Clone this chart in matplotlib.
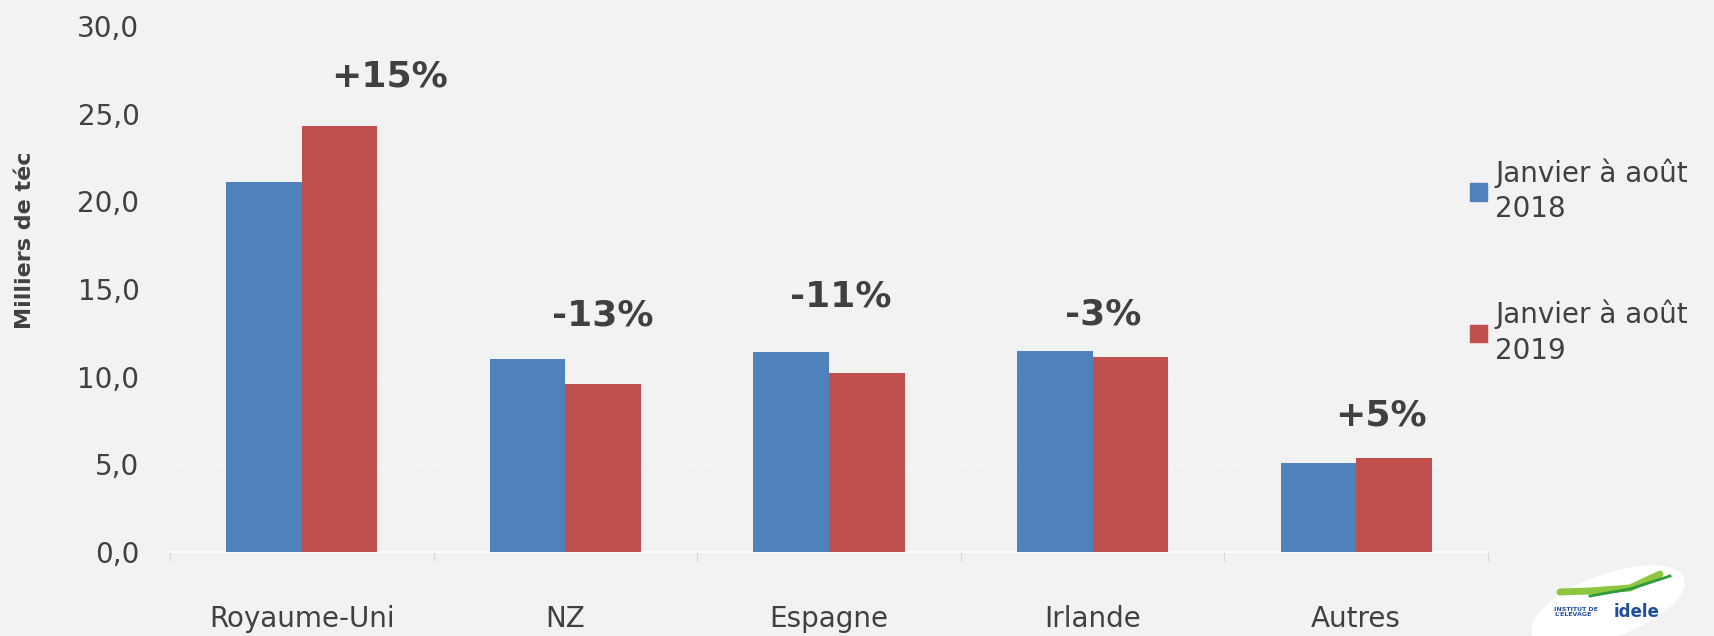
"""Exports by origin, Jan-Aug 2018 vs 2019."""

import matplotlib
matplotlib.use("Agg")
import matplotlib.pyplot as plt
from matplotlib.patches import Ellipse, Patch
import numpy as np

categories = ["Royaume-Uni", "NZ", "Espagne", "Irlande", "Autres"]
values_2018 = [21.1, 11.0, 11.4, 11.45, 5.1]
values_2019 = [24.3, 9.6, 10.2, 11.1, 5.37]
change_labels = ["+15%", "-13%", "-11%", "-3%", "+5%"]
series_labels = ["Janvier à août\n2018", "Janvier à août\n2019"]
y_ticks = [0, 5, 10, 15, 20, 25, 30]

BLUE = "#4F81BD"
RED = "#C0504D"
BG = "#F2F2F2"
TXT = "#404040"

# label placement (category units / data units above the tallest bar)
lbl_dx = [0.334, 0.143, 0.046, 0.039, 0.095]
lbl_dy = [2.8, 2.5, 3.2, 2.1, 2.4]

fig = plt.figure(figsize=(17.15, 6.36), dpi=100, facecolor=BG)
ax = fig.add_axes([170 / 1715, 1 - 552 / 636, 1318 / 1715, 526 / 636])
ax.set_facecolor(BG)

x = np.arange(len(categories))
w = 0.287
ax.bar(x - w / 2, values_2018, w, color=BLUE, zorder=3)
ax.bar(x + w / 2, values_2019, w, color=RED, zorder=3)

ax.set_xlim(-0.5, len(categories) - 0.5)
ax.set_ylim(0, 30)
ax.set_yticks(y_ticks)
ax.set_yticklabels([f"{v:.1f}".replace(".", ",") for v in y_ticks])
ax.set_xticks(x)
ax.set_xticklabels(categories)
ax.set_xticks(np.arange(-0.5, len(categories)), minor=True)

ax.tick_params(axis="y", length=0, pad=22, labelsize=20, labelcolor=TXT)
ax.tick_params(axis="x", which="major", length=0, pad=38, labelsize=20,
               labelcolor=TXT)
ax.tick_params(axis="x", which="minor", length=6.5, width=1, color="#D9D9D9")

for s in ["top", "right", "left"]:
    ax.spines[s].set_visible(False)
ax.spines["bottom"].set_color("#FFFFFF")
ax.spines["bottom"].set_linewidth(1.2)
ax.grid(axis="y", color="#FAFAFA", linestyle=(0, (3, 2)), linewidth=0.8,
        zorder=0)
ax.set_axisbelow(True)

for i, lbl in enumerate(change_labels):
    top = max(values_2018[i], values_2019[i])
    ax.text(x[i] + lbl_dx[i], top + lbl_dy[i], lbl, ha="center",
            va="center", fontsize=26, fontweight="bold", color=TXT)

fig.text(25 / 1715, 1 - 240 / 636, "Milliers de téc", rotation=90,
         ha="center", va="center", fontsize=16, fontweight="bold",
         color=TXT)

handles = [Patch(color=BLUE), Patch(color=RED)]
leg = fig.legend(handles, series_labels, loc="upper left",
                 bbox_to_anchor=(1470 / 1715, 1 - 158 / 636), frameon=False,
                 fontsize=20, labelcolor=TXT, handlelength=0.6,
                 handleheight=0.6, handletextpad=0.3, labelspacing=2.75,
                 borderpad=0, borderaxespad=0)
for t in leg.get_texts():
    t.set_linespacing(1.35)

# logo, roughly
lax = fig.add_axes([1520 / 1715, 0, 195 / 1715, 80 / 636])
lax.set_xlim(0, 195)
lax.set_ylim(0, 80)
lax.axis("off")
lax.add_patch(Ellipse((88, 30), 160, 62, angle=20, color="white"))
lax.plot([40, 70, 110, 140], [44, 45, 48, 62], color="#8DC63F", lw=5,
         solid_capstyle="round")
lax.plot([70, 110, 150], [40, 47, 60], color="#2E9A3E", lw=2)
lax.text(34, 24, "INSTITUT DE\nL'ELEVAGE", fontsize=4.5, color="#1F4E9A",
         fontweight="bold", va="center", linespacing=1.0)
lax.text(94, 24, "idele", fontsize=12, color="#1F4E9A", fontweight="bold",
         va="center")

fig.savefig("out.png", dpi=100, facecolor=BG)
